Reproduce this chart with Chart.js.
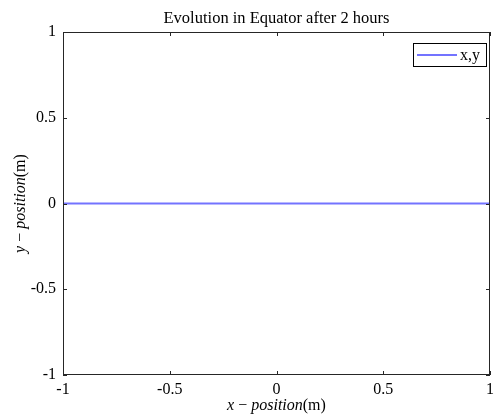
<!DOCTYPE html>
<html>
<head>
<meta charset="utf-8">
<script src="https://cdn.jsdelivr.net/npm/chart.js@4/dist/chart.umd.min.js"></script>
<style>
  html, body { margin: 0; padding: 0; background: #fff; }
  #wrap { width: 499px; height: 417px; }
</style>
</head>
<body>
<div id="wrap"><canvas id="c" width="499" height="417"></canvas></div>
<script>
const xValues = [-1, 1];
const yValues = [0, 0];
const tickValues = [-1, -0.5, 0, 0.5, 1];
const seriesLabel = 'x,y';
const titleText = 'Evolution in Equator after 2 hours';

const serif = '"Liberation Serif", "DejaVu Serif", serif';
const axisColor = '#262626';
const lineColor = 'rgba(0, 0, 255, 0.55)';

// box, inward ticks, title, axis labels and legend drawn MATLAB style
const decor = {
  id: 'decor',
  afterDraw(chart) {
    const ctx = chart.ctx;
    const a = chart.chartArea;
    const xs = chart.scales.x, ys = chart.scales.y;
    ctx.save();
    ctx.strokeStyle = axisColor;
    ctx.lineWidth = 1;
    ctx.strokeRect(a.left + 0.5, a.top + 0.5, a.right - a.left - 1, a.bottom - a.top - 1);
    ctx.beginPath();
    tickValues.forEach(v => {
      const px = Math.round(xs.getPixelForValue(v)) + 0.5;
      ctx.moveTo(px, a.bottom); ctx.lineTo(px, a.bottom - 4);
      ctx.moveTo(px, a.top); ctx.lineTo(px, a.top + 4);
      const py = Math.round(ys.getPixelForValue(v)) + 0.5;
      ctx.moveTo(a.left, py); ctx.lineTo(a.left + 4, py);
      ctx.moveTo(a.right, py); ctx.lineTo(a.right - 4, py);
    });
    ctx.stroke();

    // title
    ctx.fillStyle = '#000';
    ctx.font = '16.5px ' + serif;
    ctx.textAlign = 'center';
    ctx.textBaseline = 'alphabetic';
    ctx.fillText(titleText, (a.left + a.right) / 2, 23);

    // mixed style axis label
    function mixed(parts, cx, cy) {
      let w = 0;
      parts.forEach(p => { ctx.font = p[1] + ' 16px ' + serif; w += ctx.measureText(p[0]).width; });
      let x = cx - w / 2;
      ctx.textAlign = 'left';
      parts.forEach(p => {
        ctx.font = p[1] + ' 16px ' + serif;
        ctx.fillText(p[0], x, cy);
        x += ctx.measureText(p[0]).width;
      });
    }
    mixed([['x', 'italic'], [' \u2212 ', 'normal'], ['position', 'italic'], ['(m)', 'normal']],
      (a.left + a.right) / 2, 410);
    ctx.save();
    ctx.translate(25, (a.top + a.bottom) / 2);
    ctx.rotate(-Math.PI / 2);
    mixed([['y', 'italic'], [' \u2212 ', 'normal'], ['position', 'italic'], ['(m)', 'normal']], 0, 0);
    ctx.restore();

    // legend
    const ds = chart.data.datasets[0];
    const lx = 413, ly = 43, lw = 73, lh = 23;
    ctx.fillStyle = '#fff';
    ctx.fillRect(lx, ly, lw, lh);
    ctx.strokeStyle = '#000';
    ctx.lineWidth = 1;
    ctx.strokeRect(lx + 0.5, ly + 0.5, lw, lh);
    ctx.strokeStyle = ds.borderColor;
    ctx.lineWidth = 2;
    ctx.beginPath();
    ctx.moveTo(lx + 4, ly + 12); ctx.lineTo(lx + 44, ly + 12);
    ctx.stroke();
    ctx.fillStyle = '#000';
    ctx.font = '16px ' + serif;
    ctx.textAlign = 'left';
    ctx.fillText(ds.label, lx + 47, ly + 17);
    ctx.restore();
  }
};

new Chart(document.getElementById('c'), {
  type: 'scatter',
  data: {
    datasets: [{
      label: seriesLabel,
      data: xValues.map((x, i) => ({ x: x, y: yValues[i] })),
      showLine: true,
      borderColor: lineColor,
      backgroundColor: lineColor,
      borderWidth: 2,
      pointRadius: 0
    }]
  },
  options: {
    responsive: false,
    animation: false,
    layout: { padding: { top: 32, right: 3, left: 0, bottom: 0 } },
    plugins: { legend: { display: false }, title: { display: false }, tooltip: { enabled: false } },
    scales: {
      x: {
        type: 'linear', min: -1, max: 1,
        afterFit: s => { s.height = 42; },
        grid: { display: false, drawTicks: false },
        border: { display: false },
        ticks: {
          stepSize: 0.5, padding: 5, color: '#000', maxRotation: 0,
          font: { family: serif, size: 16 },
          callback: v => tickValues.includes(v) ? String(v) : ''
        }
      },
      y: {
        type: 'linear', min: -1, max: 1,
        afterFit: s => { s.width = 63; },
        grid: { display: false, drawTicks: false },
        border: { display: false },
        ticks: {
          stepSize: 0.5, padding: 7, color: '#000',
          font: { family: serif, size: 16 },
          callback: v => tickValues.includes(v) ? String(v) : ''
        }
      }
    }
  },
  plugins: [decor]
});
</script>
</body>
</html>
